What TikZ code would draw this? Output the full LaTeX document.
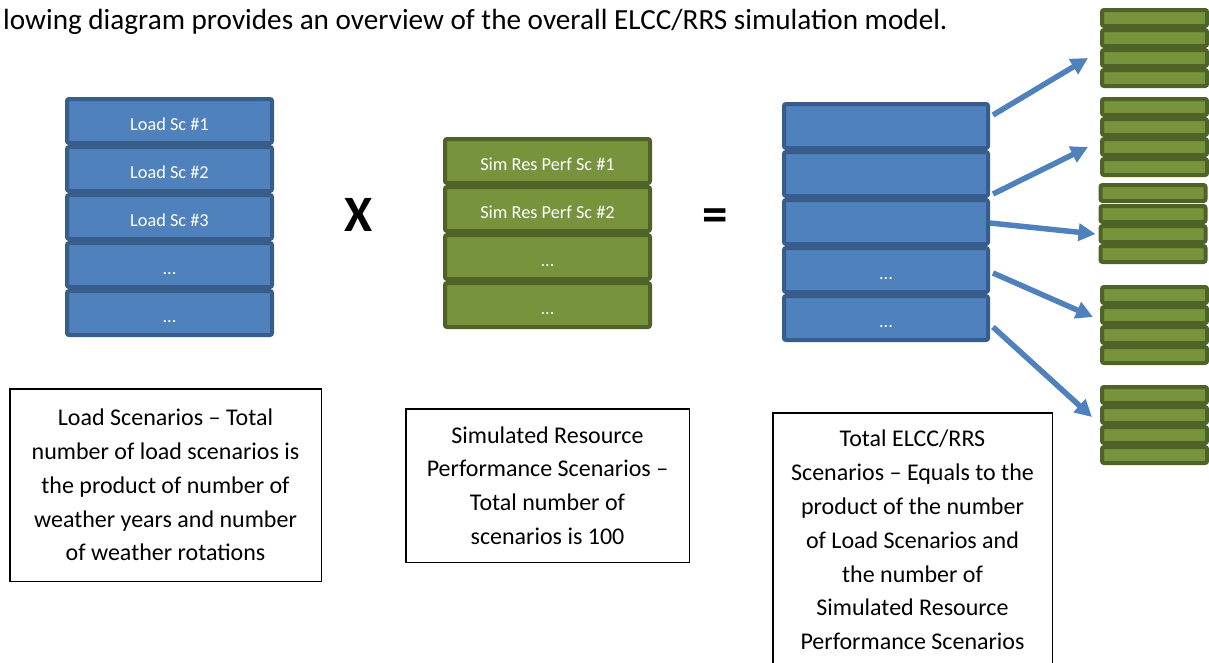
\documentclass[tikz,border=0pt]{standalone}
\usepackage{fontspec}
\setmainfont{Carlito}
\usepackage{xcolor}
\usepackage{tikz}
\usetikzlibrary{arrows.meta,positioning,calc}

\definecolor{bfill}{HTML}{4F81BD}
\definecolor{bdark}{HTML}{385D8A}
\definecolor{gfill}{HTML}{77933C}
\definecolor{gdark}{HTML}{4F6228}

\begin{document}
\begin{tikzpicture}[
    x=1pt, y=-1pt,
    lcell/.style={rectangle, draw=bdark, fill=bfill, line width=4pt, rounded corners=2pt, minimum width=205pt, minimum height=44pt, inner sep=0pt, text=white, font=\fontsize{18.3}{22}\selectfont, text height=18pt, text depth=0pt},
    gcell/.style={lcell, draw=gdark, fill=gfill},
    bar/.style={rectangle, draw=gdark, fill=gfill, line width=4pt, rounded corners=2pt, minimum width=105pt, minimum height=16pt, inner sep=0pt},
    note/.style={rectangle, draw=black, line width=1.5pt, align=center, inner sep=0pt, font=\fontsize{24}{33.8}\selectfont},
    sym/.style={font=\fontsize{51}{60}\bfseries\selectfont, inner sep=0pt, anchor=base},
    flow/.style={draw=bfill, line width=5.5pt, -{Triangle[length=17pt,width=17pt]}}
]
    \useasboundingbox (0,0) rectangle (1209,662);

    \node [anchor=base west, inner sep=0pt, font=\fontsize{29.2}{35}\selectfont] (intro) at (3,29) {lowing diagram provides an overview of the overall ELCC/RRS simulation model.};

    \node [lcell] (l1) at (169.5,121) {Load Sc \#1};
    \node [lcell, below=0pt of l1] (l2) {Load Sc \#2};
    \node [lcell, below=0pt of l2] (l3) {Load Sc \#3};
    \node [lcell, below=0pt of l3] (l4) {...};
    \node [lcell, below=0pt of l4] (l5) {...};

    \node [sym] (times) at (359,231) {X};

    \node [gcell] (s1) at (547.5,161) {Sim Res Perf Sc \#1};
    \node [gcell, below=0pt of s1] (s2) {Sim Res Perf Sc \#2};
    \node [gcell, below=0pt of s2] (s3) {...};
    \node [gcell, below=0pt of s3] (s4) {...};

    \node [sym] (equals) at (715.5,231) {=};

    \node [lcell, minimum width=204pt] (r1) at (886,126) {};
    \node [lcell, minimum width=204pt, below=0pt of r1] (r2) {};
    \node [lcell, minimum width=204pt, below=0pt of r2] (r3) {};
    \node [lcell, minimum width=204pt, below=0pt of r3] (r4) {...};
    \node [lcell, minimum width=204pt, below=0pt of r4] (r5) {...};

    \node [bar] (p1a) at (1154.5,18) {};
    \node [bar, below=0pt of p1a] (p1b) {};
    \node [bar, below=0pt of p1b] (p1c) {};
    \node [bar, below=0pt of p1c] (p1d) {};

    \node [bar] (p2a) at (1154.5,107) {};
    \node [bar, below=0pt of p2a] (p2b) {};
    \node [bar, below=0pt of p2b] (p2c) {};
    \node [bar, below=0pt of p2c] (p2d) {};

    \node [bar] (p3a) at (1153,193) {};
    \node [bar, below=1pt of p3a] (p3b) {};
    \node [bar, below=0pt of p3b] (p3c) {};
    \node [bar, below=0pt of p3c] (p3d) {};

    \node [bar] (p4a) at (1154.5,295) {};
    \node [bar, below=0pt of p4a] (p4b) {};
    \node [bar, below=0pt of p4b] (p4c) {};
    \node [bar, below=0pt of p4c] (p4d) {};

    \node [bar] (p5a) at (1154.5,395) {};
    \node [bar, below=0pt of p5a] (p5b) {};
    \node [bar, below=0pt of p5b] (p5c) {};
    \node [bar, below=0pt of p5c] (p5d) {};

    \draw [flow] ($(r1.east)+(3,-11)$) -- ($(p1c.west)+(-12,0)$);
    \draw [flow] ($(r2.south east)+(3,-4)$) -- ($(p2c.west)+(-12,0)$);
    \draw [flow] ($(r3.east)+(0,1)$) -- ($(p3c.west)+(-3,0)$);
    \draw [flow] ($(r4.east)+(3,3)$) -- ($(p4b.west)+(-7,2)$);
    \draw [flow] ($(r5.east)+(3,9)$) -- ($(p5b.west)+(-8,2)$);

    \node [note, minimum width=311.5pt, minimum height=192.5pt] (loadnote) at (165.5,485) {Load Scenarios – Total\\number of load scenarios is\\the product of number of\\weather years and number\\of weather rotations};
    \node [note, minimum width=283.5pt, minimum height=153.5pt] (simnote) at (547.5,485.5) {Simulated Resource\\Performance Scenarios –\\Total number of\\scenarios is 100};
    \node [note, minimum width=279.5pt, minimum height=254.5pt] (totalnote) at (912.5,540) {Total ELCC/RRS\\Scenarios – Equals to the\\product of the number\\of Load Scenarios and\\the number of\\Simulated Resource\\Performance Scenarios};
\end{tikzpicture}
\end{document}
